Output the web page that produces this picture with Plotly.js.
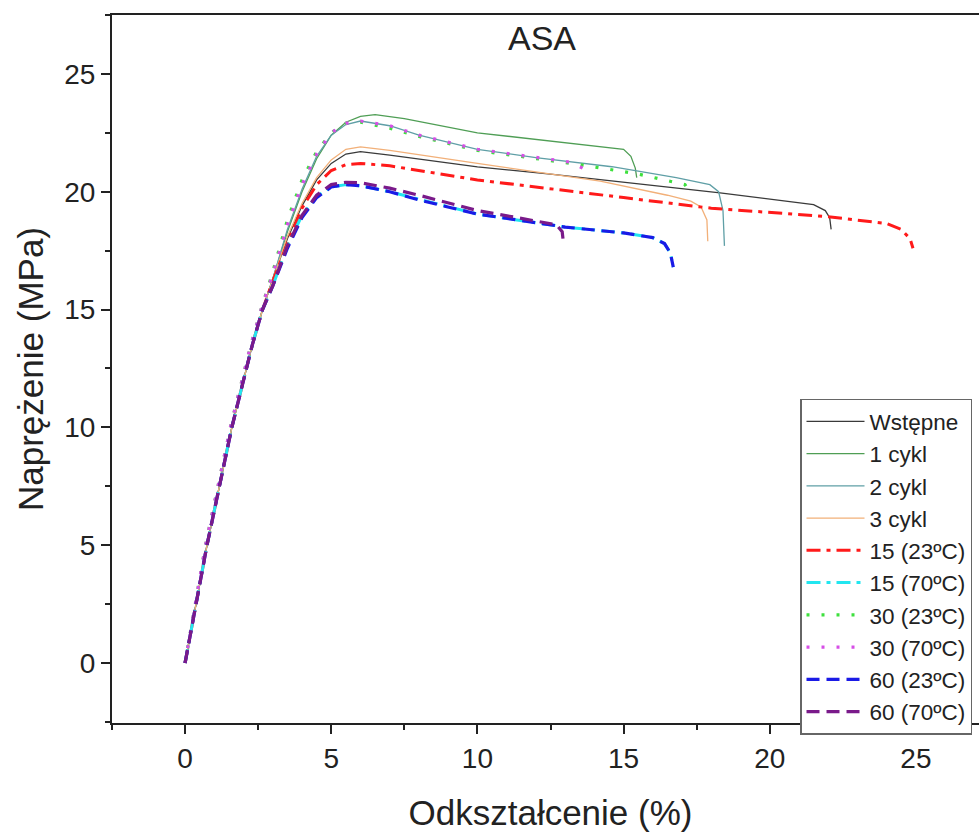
<!DOCTYPE html>
<html>
<head>
<meta charset="utf-8">
<script src="https://cdn.plot.ly/plotly-3.0.1.min.js"></script>
<style>
html,body{margin:0;padding:0;overflow:hidden;background:#fff;}
#chart{width:1000px;height:832px;}
</style>
</head>
<body>
<div id="chart"></div>
<script>
// Series names
const names = ["Wstępne","1 cykl","2 cykl","3 cykl","15 (23ºC)","15 (70ºC)","30 (23ºC)","30 (70ºC)","60 (23ºC)","60 (70ºC)"];

// Strain (%) / stress (MPa)
const x_wstepne = [0,0.75,1.6,2.3,2.65,3.0,3.5,4.0,4.5,5.0,5.5,6.0,7.0,10.0,12.5,15.0,18.3,21.5,21.9,22.05,22.1];
const y_wstepne = [0,5,10,13.5,15,16.3,18.0,19.4,20.5,21.2,21.6,21.7,21.55,21.05,20.75,20.4,19.95,19.45,19.2,18.9,18.4];

const x_c1 = [0,0.75,1.6,2.3,2.65,3.0,3.5,4.0,4.5,5.0,5.5,6.0,6.5,7.5,10.0,13.0,15.0,15.25,15.4,15.45];
const y_c1 = [0,5,10,13.5,15,16.3,18.3,20.0,21.4,22.4,22.95,23.2,23.27,23.1,22.5,22.08,21.8,21.5,21.0,20.6];

const x_c2 = [0,0.75,1.6,2.3,2.65,3.0,3.5,4.0,4.5,5.0,5.5,6.0,7.0,8.0,10.0,12.0,14.6,16.8,17.95,18.25,18.4,18.45];
const y_c2 = [0,5,10,13.5,15,16.3,18.4,20.1,21.5,22.4,22.85,23.0,22.8,22.4,21.8,21.45,21.06,20.6,20.3,20.0,19.2,17.7];

const x_c3 = [0,0.75,1.6,2.3,2.65,3.0,3.5,4.0,4.5,5.0,5.5,6.0,7.0,10.0,14.2,16.5,17.3,17.65,17.85,17.88];
const y_c3 = [0,5,10,13.5,15,16.3,18.1,19.5,20.6,21.35,21.8,21.9,21.75,21.2,20.45,19.85,19.6,19.35,18.8,17.9];

const x_15_23 = [0,0.75,1.6,2.3,2.65,3.0,3.5,4.0,4.5,5.0,5.5,6.0,7.0,10.0,15.0,18.0,22.0,24.0,24.5,24.8,24.9];
const y_15_23 = [0,5,10,13.5,15,16.2,17.8,19.3,20.3,20.9,21.15,21.2,21.1,20.5,19.75,19.3,18.94,18.65,18.4,18.0,17.6];

const x_15_70 = [0,0.75,1.6,2.3,2.65,3.0,3.5,4.0,4.5,5.0,5.5,6.0,7.0,10.0,13.0,15.0,16.0,16.4,16.6,16.7];
const y_15_70 = [0,5,10,13.5,15,16.0,17.7,19.0,19.8,20.2,20.3,20.25,20.0,19.05,18.5,18.25,18.05,17.8,17.4,16.8];

const x_30_23 = [0,0.7,1.55,2.25,2.6,3.0,3.5,4.0,4.5,5.0,5.5,6.0,7.0,8.0,10.0,13.5,15.5,17.1,17.25];
const y_30_23 = [0,5,10,13.5,15,16.6,18.8,20.5,21.7,22.5,22.9,22.95,22.7,22.35,21.75,21.15,20.75,20.3,20.0];

const x_30_70 = [0,0.7,1.55,2.25,2.6,3.0,3.5,4.0,4.5,5.0,5.5,6.0,7.0,8.0,10.0,12.0,13.2,13.6,13.8];
const y_30_70 = [0,5,10,13.5,15,16.5,18.6,20.3,21.6,22.5,22.9,23.0,22.8,22.4,21.8,21.45,21.25,21.0,20.6];

const x_60_23 = [0,0.75,1.6,2.3,2.65,3.0,3.5,4.0,4.5,5.0,5.5,6.0,7.0,8.0,10.0,13.0,15.0,16.0,16.4,16.6,16.7];
const y_60_23 = [0,5,10,13.5,15,16.0,17.6,18.9,19.75,20.2,20.3,20.25,20.0,19.65,19.05,18.5,18.25,18.05,17.8,17.4,16.8];

const x_60_70 = [0,0.75,1.6,2.3,2.65,3.0,3.5,4.0,4.5,5.0,5.5,6.0,7.0,8.0,10.0,12.7,12.9,12.95];
const y_60_70 = [0,5,10,13.5,15,16.0,17.7,19.0,19.85,20.3,20.4,20.38,20.15,19.85,19.2,18.6,18.3,17.75];

const xs = [x_wstepne,x_c1,x_c2,x_c3,x_15_23,x_15_70,x_30_23,x_30_70,x_60_23,x_60_70];
const ys = [y_wstepne,y_c1,y_c2,y_c3,y_15_23,y_15_70,y_30_23,y_30_70,y_60_23,y_60_70];

const styles = [
  {color:"#3a3a3a", width:1.3, dash:"solid"},
  {color:"#4f9e55", width:1.3, dash:"solid"},
  {color:"#5f9fa6", width:1.3, dash:"solid"},
  {color:"#f2b079", width:1.3, dash:"solid"},
  {color:"#ff1a1a", width:3, dash:"14px,6px,4px,6px"},
  {color:"#22e6f0", width:3, dash:"14px,6px,4px,6px"},
  {color:"#3ee03e", width:3.2, dash:"3px,12px"},
  {color:"#d64fe6", width:3.2, dash:"3px,12px"},
  {color:"#1a1ae6", width:3.2, dash:"13px,7px"},
  {color:"#7a1a8a", width:3.2, dash:"13px,7px"}
];

const traces = names.map((n,i)=>({
  type:"scatter", mode:"lines", name:n, x:xs[i], y:ys[i],
  line:{color:styles[i].color, width:styles[i].width, dash:styles[i].dash}
}));

const FF = "Liberation Sans, Arial, sans-serif";

const axisCommon = {
  showgrid:false, zeroline:false, showline:true, linecolor:"#222", linewidth:2,
  ticks:"outside", ticklen:9, tickwidth:2, tickcolor:"#222",
  mirror:true,
  tickfont:{family:FF, size:28, color:"#222"}
};

const layout = {
  width:1000, height:832,
  margin:{l:112, r:11, t:15, b:109},
  paper_bgcolor:"#fff", plot_bgcolor:"#fff",
  font:{family:FF, color:"#222"},
  showlegend:true,
  xaxis:Object.assign({}, axisCommon, {
    range:[-2.5,27.5], dtick:5, tick0:0,
    minor:{dtick:2.5, ticks:"outside", ticklen:5, tickwidth:2, tickcolor:"#222"},
    title:{text:"Odkształcenie (%)", font:{size:35, family:FF, color:"#222"}, standoff:28}
  }),
  yaxis:Object.assign({}, axisCommon, {
    range:[-2.55,27.5], dtick:5, tick0:0,
    minor:{dtick:2.5, ticks:"outside", ticklen:5, tickwidth:2, tickcolor:"#222"},
    title:{text:"Naprężenie (MPa)", font:{size:35, family:FF, color:"#222"}, standoff:10}
  }),
  legend:{
    x:0.7845, y:0.458, xanchor:"left", yanchor:"top",
    bgcolor:"#fff", bordercolor:"#666", borderwidth:1.5,
    font:{family:FF, size:22.5, color:"#222"},
    itemwidth:58, tracegroupgap:0
  },
  annotations:[{
    text:"ASA", xref:"paper", yref:"paper", x:0.49, y:0.967,
    xanchor:"center", yanchor:"middle", showarrow:false,
    font:{family:FF, size:34, color:"#222"}
  }]
};

Plotly.newPlot("chart", traces, layout, {displayModeBar:false, staticPlot:true});
</script>
</body>
</html>
